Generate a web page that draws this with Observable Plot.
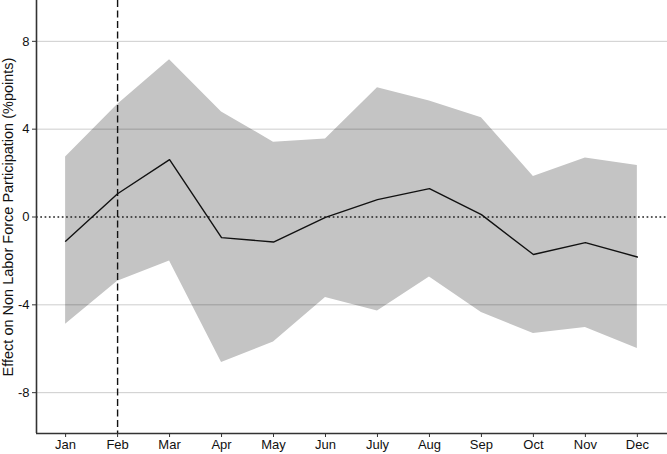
<!DOCTYPE html>
<html>
<head>
<meta charset="utf-8">
<script src="https://cdn.jsdelivr.net/npm/d3@7"></script>
<script src="https://cdn.jsdelivr.net/npm/@observablehq/plot@0.6"></script>
<style>
  html, body { margin: 0; padding: 0; background: #fff; }
  #chart svg { display: block; }
</style>
</head>
<body>
<div id="chart"></div>
<script>
const months = ["Jan","Feb","Mar","Apr","May","Jun","July","Aug","Sep","Oct","Nov","Dec"];
const estimate = [-1.10, 1.06, 2.61, -0.94, -1.14, -0.02, 0.79, 1.29, 0.11, -1.71, -1.17, -1.82];
const upper = [2.73, 5.12, 7.16, 4.78, 3.41, 3.55, 5.89, 5.28, 4.52, 1.85, 2.69, 2.35];
const lower = [-4.88, -2.93, -2.00, -6.63, -5.69, -3.67, -4.28, -2.73, -4.35, -5.31, -5.03, -5.99];
const yTicks = [-8, -4, 0, 4, 8];
const gridValues = [-8, -4, 4, 8];
const eventMonth = 2;
const yTitle = "Effect on Non Labor Force Participation (%points)";

const data = months.map((m, i) => ({m: i + 1, label: m, est: estimate[i], hi: upper[i], lo: lower[i]}));

const xDomain = [0.44, 12.58];
const yDomain = [-9.86, 9.86];

const chart = Plot.plot({
  width: 667,
  height: 454,
  marginTop: 0,
  marginBottom: 21,
  marginLeft: 36,
  marginRight: 0,
  style: {fontFamily: "'Liberation Sans', Arial, Helvetica, sans-serif", fontSize: "13px", color: "#111", background: "#fff"},
  x: {type: "linear", domain: xDomain},
  y: {domain: yDomain},
  marks: [
    Plot.areaY(data, {x: "m", y1: "lo", y2: "hi", fill: "#c4c4c4"}),
    Plot.ruleY(gridValues, {stroke: "#000", strokeOpacity: 0.2, strokeWidth: 1}),
    Plot.ruleY([0], {stroke: "#222", strokeWidth: 1.5, strokeDasharray: "1.7,2.6"}),
    Plot.ruleX([eventMonth], {stroke: "#111", strokeWidth: 1.4, strokeDasharray: "7,3.5"}),
    Plot.line(data, {x: "m", y: "est", stroke: "#111", strokeWidth: 1.4}),
    Plot.ruleX([xDomain[0]], {stroke: "#333", strokeWidth: 1.6}),
    Plot.ruleY([yDomain[0]], {stroke: "#333", strokeWidth: 1.6}),
    Plot.axisX({ticks: data.map(d => d.m), tickFormat: d => months[d - 1], tickSize: 4, tickPadding: 2, label: null, stroke: "#333"}),
    Plot.axisY({ticks: yTicks, tickFormat: d => String(d), tickSize: 4, tickPadding: 3, label: null, stroke: "#333"}),
    Plot.text([yTitle], {frameAnchor: "left", dx: -28, rotate: -90, fontSize: 14.5, fill: "#111", textAnchor: "middle"})
  ]
});
document.getElementById("chart").appendChild(chart);
</script>
</body>
</html>
